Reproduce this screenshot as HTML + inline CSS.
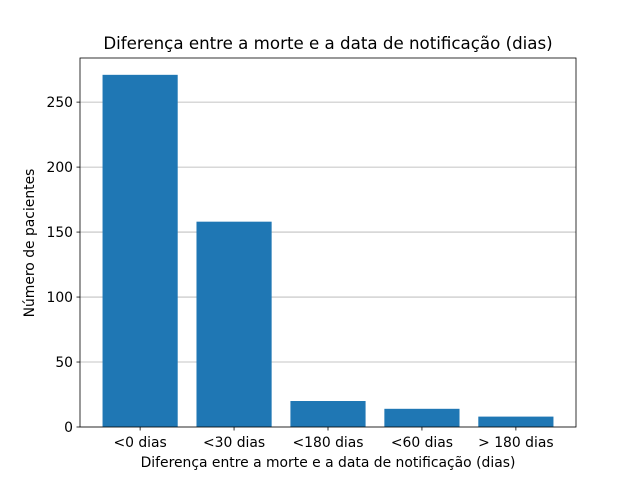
<!DOCTYPE html>
<html><head><meta charset="utf-8"><style>
body{margin:0;background:#fff;}
svg text{font-family:"DejaVu Sans","Liberation Sans",sans-serif;}
</style></head><body>
<svg id="chart" width="640" height="480" xmlns="http://www.w3.org/2000/svg">
<rect width="640" height="480" fill="#fff"/>
<text x="328" y="49" font-size="16.67" text-anchor="middle">Diferença entre a morte e a data de notificação (dias)</text>
<g id="grid"></g><g id="bars"></g><g id="axes"></g>
<text x="328" y="467" font-size="13.9" text-anchor="middle">Diferença entre a morte e a data de notificação (dias)</text>
<text transform="translate(34,243) rotate(-90)" font-size="13.9" text-anchor="middle">Número de pacientes</text>
</svg>
<script>
const categories=["<0 dias","<30 dias","<180 dias","<60 dias","> 180 dias"];
const values=[271,158,20,14,8];
const yTicks=[0,50,100,150,200,250];
const L=80,R=576,T=58,B=427;
const NS="http://www.w3.org/2000/svg";
const yMax=283.95;
const xMin=-0.64,xMax=categories.length-1+0.64;
function y(v){return B-(v/yMax)*(B-T);}
function x(i){return L+(i-xMin)/(xMax-xMin)*(R-L);}
function mk(t,a,p){const e=document.createElementNS(NS,t);for(const k in a)e.setAttribute(k,a[k]);p.appendChild(e);return e;}
const grid=document.getElementById('grid'),bars=document.getElementById('bars'),axes=document.getElementById('axes');
yTicks.forEach(t=>{
  const g=mk('line',{x1:L,x2:R,y1:y(t),y2:y(t),stroke:'#b0b0b0','stroke-width':0.8},grid);
  
  
  mk('line',{x1:L-3.5,x2:L,y1:y(t),y2:y(t),stroke:'#000','stroke-width':0.8},axes);
  const tx=mk('text',{x:L-7,y:y(t)+5,'font-size':13.9,'text-anchor':'end'},axes);
  tx.textContent=t;
  
  
});
const bw=0.8*(R-L)/(xMax-xMin);
categories.forEach((c,i)=>{
  const r=mk('rect',{x:x(i)-bw/2,y:y(values[i]),width:bw,height:B-y(values[i]),fill:'#1f77b4'},bars);
  
  
  mk('line',{x1:x(i),x2:x(i),y1:B,y2:B+3.5,stroke:'#000','stroke-width':0.8},axes);
  const tx=mk('text',{x:x(i),y:B+20,'font-size':13.9,'text-anchor':'middle'},axes);
  tx.textContent=c;
  
  
});
const f=mk('rect',{x:L,y:T,width:R-L,height:B-T,fill:'none',stroke:'#000','stroke-width':0.8},axes);


</script>
</body></html>
